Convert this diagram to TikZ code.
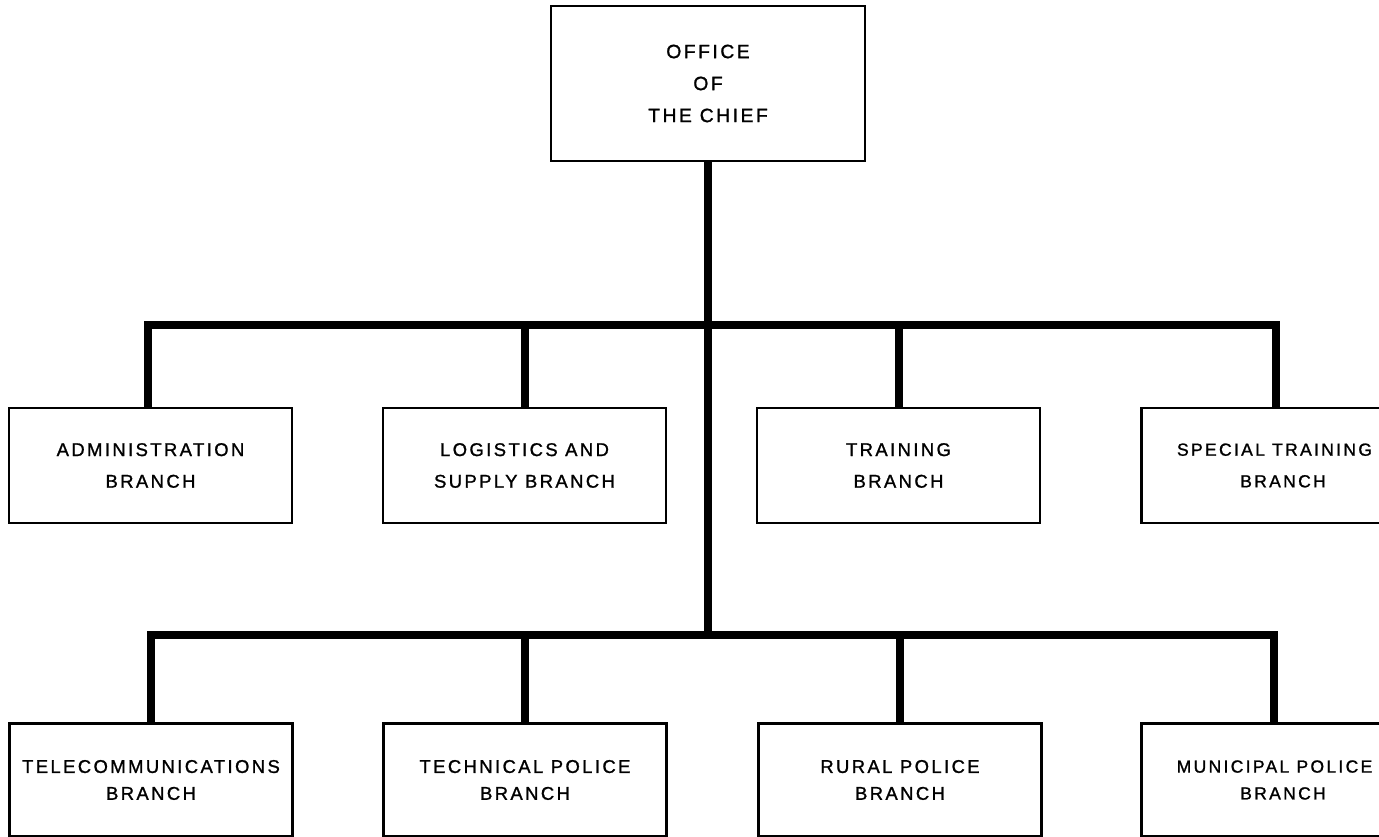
\documentclass[tikz,border=0pt]{standalone}
\usepackage{fontspec}
\setmainfont{Liberation Sans}[LetterSpace=13, FakeBold=1.2]
\usepackage{tikz}

\tikzset{
	unitbox/.style={draw, line width=0.5mm, minimum width=5.66cm, minimum height=2.3cm, align=center, inner sep=0pt, font=\fontsize{10.5}{18}\selectfont},
	lowbox/.style={unitbox, minimum height=2.26cm, font=\fontsize{10.5}{15.3}\selectfont},
	bar/.style={black, line width=1.6mm, line join=miter}
}

\begin{document}
\begin{tikzpicture}[x=0.02cm, y=-0.02cm]
\useasboundingbox (0,0) rectangle (1379,837);
\clip (0,0) rectangle (1379,837);

% office
\node[unitbox, minimum width=6.28cm, minimum height=3.1cm, font=\fontsize{11}{18.2}\selectfont] (chief) at (708,83.5) {OFFICE\\OF\\THE CHIEF};

% first row
\node[unitbox] (admin) at (150.5,465.5) {ADMINISTRATION\\BRANCH};
\node[unitbox] (logist) at (524.5,465.5) {LOGISTICS AND\\SUPPLY BRANCH};
\node[unitbox] (train) at (898.5,465.5) {TRAINING\\BRANCH};
\node[unitbox, font=\fontsize{10}{18}\selectfont] (spectrain) at (1283,465.5) {\hspace*{-0.34cm}SPECIAL TRAINING\\BRANCH};

% second row
\node[lowbox] (telecom) at (151,780) {\rule{0pt}{0.1cm}TELECOMMUNICATIONS\\BRANCH};
\node[lowbox] (techpol) at (525,780) {\rule{0pt}{0.1cm}TECHNICAL POLICE\\BRANCH};
\node[lowbox] (ruralpol) at (900,780) {\rule{0pt}{0.1cm}RURAL POLICE\\BRANCH};
\node[lowbox, font=\fontsize{10}{15.3}\selectfont] (munipol) at (1283,780) {\rule{0pt}{0.1cm}\hspace*{-0.34cm}MUNICIPAL POLICE\\BRANCH};

\coordinate (upbus) at (710,325);
\coordinate (lowbus) at (710,635);

% lines
\draw[bar] (chief.south) -- (chief.south |- lowbus);
\draw[bar] ([xshift=-0.06cm]admin.north) |- (upbus) -| ([xshift=-0.14cm]spectrain.north);
\draw[bar] (logist.north) -- (logist.north |- upbus);
\draw[bar] (train.north) -- (train.north |- upbus);
\draw[bar] (telecom.north) |- (lowbus) -| ([xshift=-0.18cm]munipol.north);
\draw[bar] (techpol.north) -- (techpol.north |- lowbus);
\draw[bar] (ruralpol.north) -- (ruralpol.north |- lowbus);
\end{tikzpicture}
\end{document}
